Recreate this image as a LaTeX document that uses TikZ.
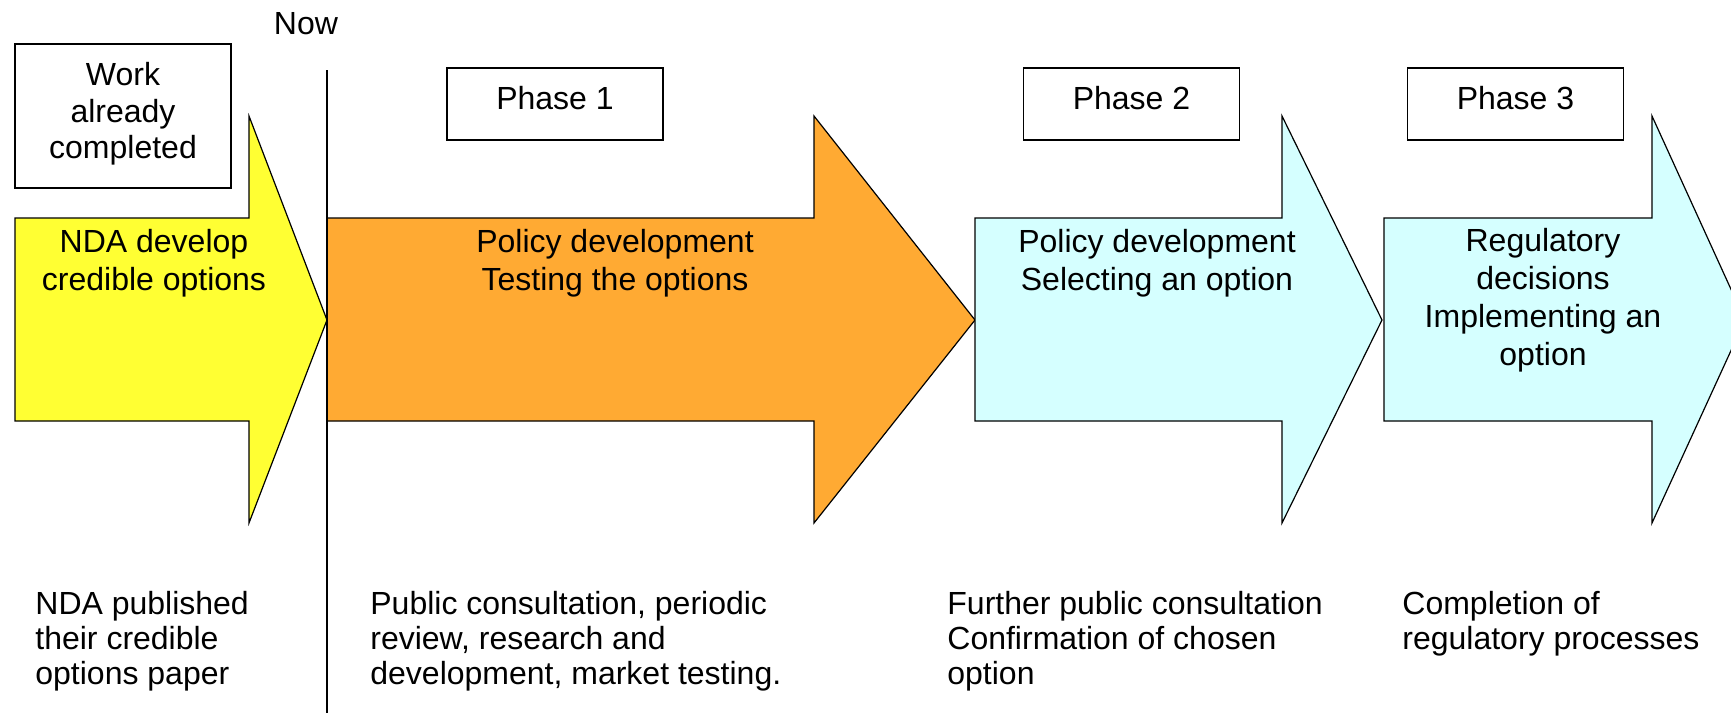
\documentclass[tikz,border=0pt]{standalone}
\usepackage{fontspec}
\setmainfont{Liberation Sans}
\usepackage{xcolor}
\usepackage{tikz}
\definecolor{ndayellow}{HTML}{FFFF33}
\definecolor{phaseorange}{HTML}{FFAA33}
\definecolor{phasecyan}{HTML}{D5FFFF}
\tikzset{
  bigarrow/.style={draw=black,line width=0.6pt,line join=miter},
  labeltext/.style={font=\fontsize{16pt}{19pt}\selectfont,inner sep=0pt,align=center},
  notetext/.style={font=\fontsize{16pt}{17.4pt}\selectfont,inner sep=0pt,align=left,anchor=north west},
  phasebox/.style={draw=black,line width=0.6pt,font=\fontsize{16pt}{18pt}\selectfont,inner sep=0pt,minimum width=108pt,text height=20.5pt,text depth=15.5pt}
}

\begin{document}
\begin{tikzpicture}[x=0.5pt,y=-0.5pt]
  \clip (0,0) rectangle (1731,713);
  \fill[white] (0,0) rectangle (1731,713);
  \draw[bigarrow,fill=ndayellow] (15,218) -- (249,218) -- (249,116) -- (327,320) -- (249,523) -- (249,421) -- (15,421) -- cycle;
  \draw[bigarrow,fill=phaseorange] (327,218) -- (814,218) -- (814,116) -- (975,320) -- (814,523) -- (814,421) -- (327,421) -- cycle;
  \draw[bigarrow,fill=phasecyan] (975,218) -- (1282,218) -- (1282,116) -- (1382,320) -- (1282,523) -- (1282,421) -- (975,421) -- cycle;
  \draw[bigarrow,fill=phasecyan] (1384,218) -- (1652,218) -- (1652,116) -- (1745,320) -- (1652,523) -- (1652,421) -- (1384,421) -- cycle;
  \node[labeltext] (now) at (306,24) {Now};
  \coordinate (nowtop) at (327,70);
  \coordinate (nowbot) at (327,713);
  \draw[line width=0.6pt] (nowtop) -- (nowbot);
  \node[draw=black,line width=0.6pt,minimum width=108pt,minimum height=72pt] (work) at (123,116) {};
  \node[labeltext,font=\fontsize{16pt}{18.2pt}\selectfont] (worktext) at (123,114) {Work\\already\\completed};
  \node[phasebox] (phase1) at (555,104) {Phase 1};
  \node[phasebox] (phase2) at (1131.5,104) {Phase 2};
  \node[phasebox] (phase3) at (1515.5,104) {Phase 3};
  \node[labeltext] (nda) at (154,263) {NDA develop\\credible options};
  \node[labeltext] (testing) at (615,263) {Policy development\\Testing the options};
  \node[labeltext] (selecting) at (1157,263) {Policy development\\Selecting an option};
  \node[labeltext] (implementing) at (1543,300) {Regulatory\\decisions\\Implementing an\\option};
  \node[notetext] (published) at (35,591) {NDA published\\their credible\\options paper};
  \node[notetext] (consult) at (370,591) {Public consultation, periodic\\review, research and\\development, market testing.};
  \node[notetext] (further) at (947,591) {Further public consultation\\Confirmation of chosen\\option};
  \node[notetext] (completion) at (1402,591) {Completion of\\regulatory processes};
\end{tikzpicture}
\end{document}
